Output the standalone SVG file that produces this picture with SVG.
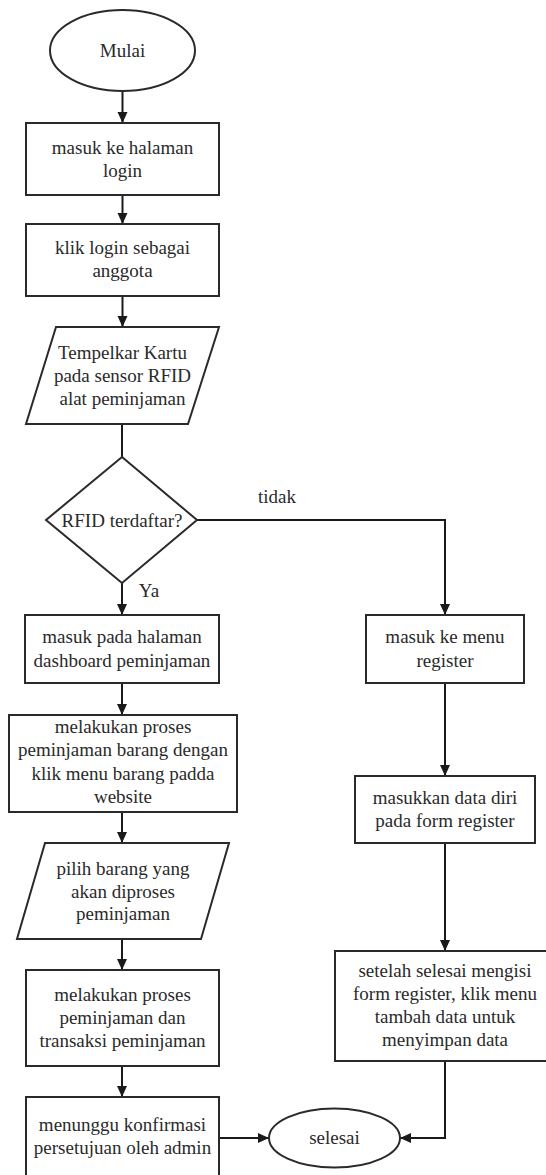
<svg xmlns="http://www.w3.org/2000/svg" width="546" height="1175" viewBox="0 0 546 1175">
<defs>
<marker id="arr" markerUnits="userSpaceOnUse" markerWidth="12" markerHeight="11" refX="11" refY="5" orient="auto">
<path d="M0,0 L11,5 L0,10 Z" fill="#1a1a1a"/>
</marker>
<style>
.s{fill:#fff;stroke:#2a2a2a;stroke-width:2}
.t{font-family:'Liberation Serif','Times New Roman',Times,serif;font-size:19px;fill:#2a2a2a;text-anchor:middle}
.l{fill:none;stroke:#1a1a1a;stroke-width:2}
.a{marker-end:url(#arr)}
</style>
</defs>
<rect width="546" height="1175" fill="#fff"/>
<g id="connectors">
<path class="l a" d="M122.5,91 V123"/>
<path class="l a" d="M122.5,195 V224"/>
<path class="l a" d="M122.5,296 V327"/>
<path class="l" d="M122,424 V457"/>
<path class="l a" d="M122,583 V615"/>
<path class="l a" d="M197,520 H445 V615"/>
<path class="l a" d="M122,683 V715"/>
<path class="l a" d="M122,812 V843"/>
<path class="l a" d="M122,939 V970"/>
<path class="l a" d="M122,1066 V1097"/>
<path class="l a" d="M219,1138 H269"/>
<path class="l a" d="M445,683 V776"/>
<path class="l a" d="M445,843 V951"/>
<path class="l a" d="M445,1061 V1138 H400"/>
<text class="t" x="277" y="503">tidak</text>
<text class="t" x="149" y="597">Ya</text>
</g>
<g id="mulai">
<ellipse class="s" cx="122.5" cy="50.5" rx="72.5" ry="40.5"/>
<text class="t" x="122.5" y="57">Mulai</text>
</g>
<g id="login">
<rect class="s" x="26" y="123" width="193" height="72"/>
<text class="t" x="122.5" y="154">masuk ke halaman</text>
<text class="t" x="122.5" y="177">login</text>
</g>
<g id="anggota">
<rect class="s" x="26" y="224" width="193" height="72"/>
<text class="t" x="122.5" y="254">klik login sebagai</text>
<text class="t" x="122.5" y="277">anggota</text>
</g>
<g id="tempel">
<polygon class="s" points="56,327 219,327 188,424 26,424"/>
<text class="t" x="122.5" y="359">Tempelkar Kartu</text>
<text class="t" x="122.5" y="382">pada sensor RFID</text>
<text class="t" x="122.5" y="405">alat peminjaman</text>
</g>
<g id="rfid">
<polygon class="s" points="122,457 197,520 122,583 46,520"/>
<text class="t" x="122" y="527">RFID terdaftar?</text>
</g>
<g id="dashboard">
<rect class="s" x="25" y="615" width="194" height="68"/>
<text class="t" x="122" y="643">masuk pada halaman</text>
<text class="t" x="122" y="667">dashboard peminjaman</text>
</g>
<g id="proses">
<rect class="s" x="9" y="715" width="228" height="97"/>
<text class="t" x="123" y="733">melakukan proses</text>
<text class="t" x="123" y="756">peminjaman barang dengan</text>
<text class="t" x="123" y="780">klik menu barang padda</text>
<text class="t" x="123" y="803">website</text>
</g>
<g id="pilih">
<polygon class="s" points="45,843 229,843 201,939 17,939"/>
<text class="t" x="123" y="875">pilih barang yang</text>
<text class="t" x="123" y="898">akan diproses</text>
<text class="t" x="123" y="920">peminjaman</text>
</g>
<g id="transaksi">
<rect class="s" x="26" y="970" width="193" height="96"/>
<text class="t" x="122.5" y="1001">melakukan proses</text>
<text class="t" x="122.5" y="1024">peminjaman dan</text>
<text class="t" x="122.5" y="1047">transaksi peminjaman</text>
</g>
<g id="menunggu">
<rect class="s" x="26" y="1097" width="193" height="90"/>
<text class="t" x="122.5" y="1131">menunggu konfirmasi</text>
<text class="t" x="122.5" y="1154">persetujuan oleh admin</text>
</g>
<g id="register">
<rect class="s" x="366" y="615" width="158" height="68"/>
<text class="t" x="445" y="643">masuk ke menu</text>
<text class="t" x="445" y="667">register</text>
</g>
<g id="datadiri">
<rect class="s" x="355" y="776" width="180" height="67"/>
<text class="t" x="445" y="804">masukkan data diri</text>
<text class="t" x="445" y="827">pada form register</text>
</g>
<g id="simpan">
<rect class="s" x="335" y="951" width="220" height="110"/>
<text class="t" x="445" y="977">setelah selesai mengisi</text>
<text class="t" x="445" y="1000">form register, klik menu</text>
<text class="t" x="445" y="1023">tambah data untuk</text>
<text class="t" x="445" y="1046">menyimpan data</text>
</g>
<g id="selesai">
<ellipse class="s" cx="334.5" cy="1138" rx="65.5" ry="29.5"/>
<text class="t" x="334.5" y="1144">selesai</text>
</g>
</svg>
